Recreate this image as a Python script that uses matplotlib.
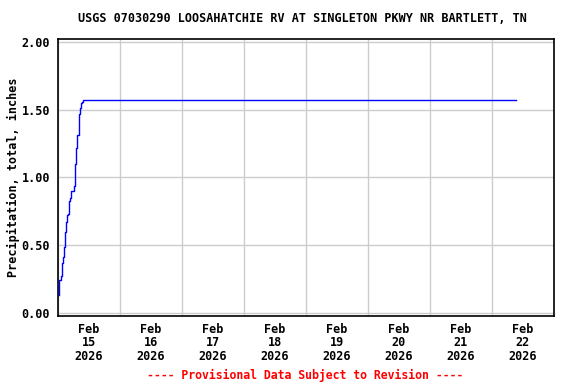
import matplotlib
matplotlib.use("Agg")
from matplotlib import pyplot as plt
import matplotlib.dates as mdates
from datetime import datetime, timedelta

title = "USGS 07030290 LOOSAHATCHIE RV AT SINGLETON PKWY NR BARTLETT, TN"
ylabel = "Precipitation, total, inches"
footer = "---- Provisional Data Subject to Revision ----"

# hours after Feb 15 2026 00:00 and cumulative precip (inches)
hours = [0.4, 1.2, 1.55, 1.95, 2.3, 2.7, 3.1, 3.5, 3.9, 4.1, 4.65, 5.2,
         6.3, 6.7, 7.1, 7.5, 8.0, 8.4, 8.8, 9.2, 9.7, 10.2, 177.3]
precip = [0.13, 0.24, 0.27, 0.37, 0.41, 0.49, 0.60, 0.67, 0.72, 0.73, 0.83,
          0.85, 0.90, 0.94, 1.10, 1.22, 1.31, 1.47, 1.51, 1.55, 1.56, 1.575, 1.575]
yticks = [0, 0.5, 1.0, 1.5, 2.0]

start = datetime(2026, 2, 15)
times = [start + timedelta(hours=h) for h in hours]

font = {"family": "DejaVu Sans Mono", "weight": "bold"}

fig = plt.figure(figsize=(5.76, 3.84), dpi=100)
ax = fig.add_axes([58/576, 1-316/384, (554-58)/576, (316-39)/384])

ax.step(times, precip, where="pre", color="blue", linewidth=1)

ax.set_xlim(start, start + timedelta(days=8))
ax.set_ylim(-0.022, 2.022)
ax.set_yticks(yticks)
ax.set_yticklabels(["%.2f" % v for v in yticks], fontdict=font, fontsize=8.5)

ax.xaxis.set_major_locator(mdates.DayLocator())
ax.xaxis.set_major_formatter(plt.NullFormatter())
ax.xaxis.set_minor_locator(mdates.HourLocator(byhour=[12]))
ax.xaxis.set_minor_formatter(mdates.DateFormatter("%b\n%d\n%Y"))
for lab in ax.xaxis.get_minorticklabels():
    lab.set_fontfamily("DejaVu Sans Mono")
    lab.set_fontweight("bold")
    lab.set_fontsize(8.5)
    lab.set_linespacing(1.04)
ax.tick_params(axis="x", which="minor", length=0, pad=5)
ax.tick_params(axis="x", which="major", length=0)
ax.tick_params(axis="y", length=0, pad=5.8)

ax.grid(True, which="major", color="#cccccc", linewidth=1)
ax.set_axisbelow(True)
for s in ax.spines.values():
    s.set_linewidth(1.2)

ax.set_ylabel(ylabel, fontdict=font, fontsize=8.5, labelpad=1)
fig.text(302/576, 1-19/384, title, ha="center", va="center", fontdict=font, fontsize=8.5)
fig.text(305/576, 1-375/384, footer, ha="center", va="center", fontdict=font,
         fontsize=8.3, color="red")

fig.savefig("out.png", dpi=100)
